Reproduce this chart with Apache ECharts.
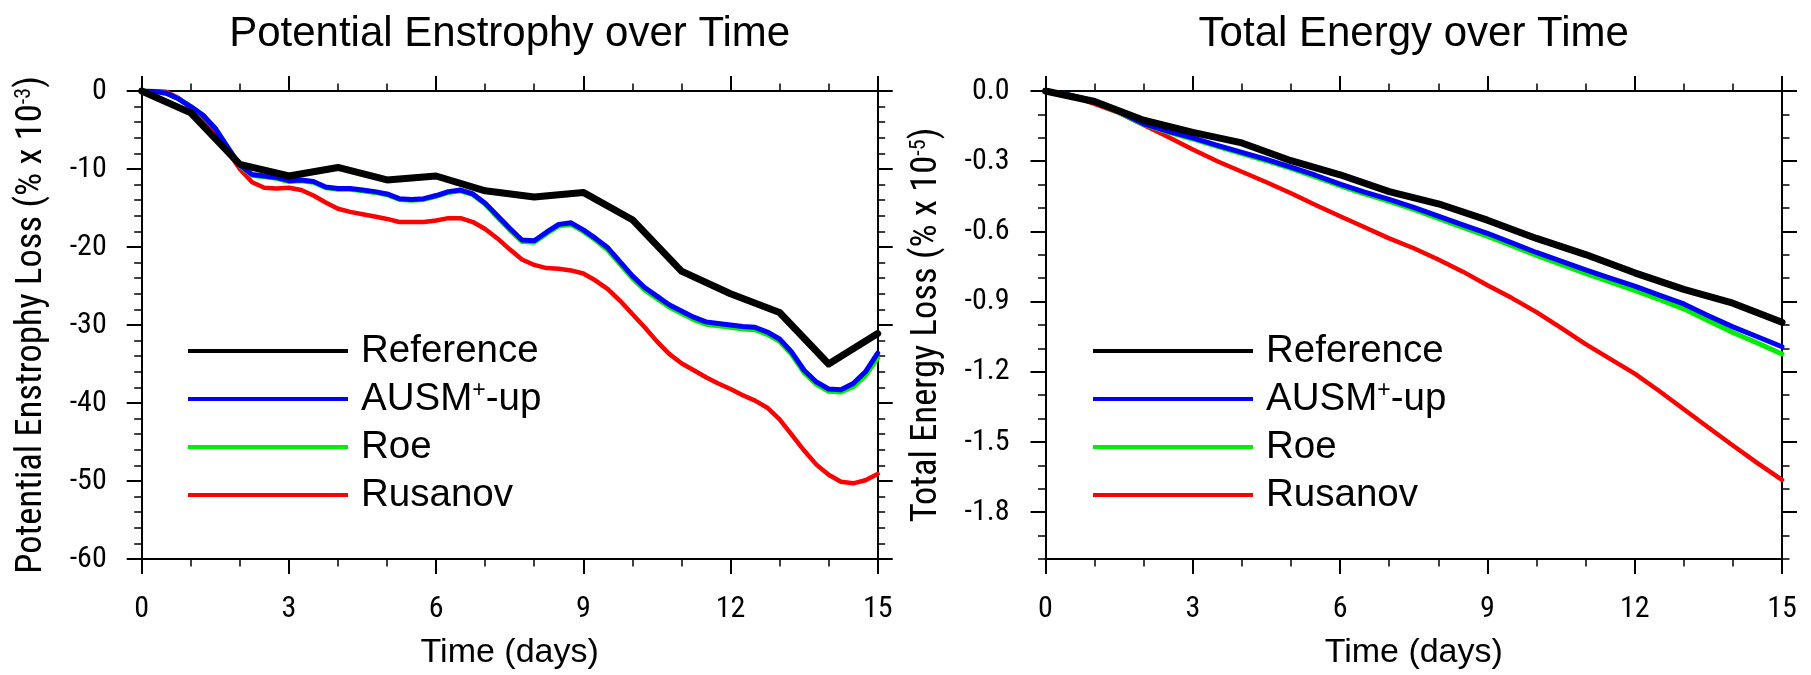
<!DOCTYPE html>
<html><head><meta charset="utf-8">
<script src="https://cdn.jsdelivr.net/npm/echarts@6/dist/echarts.min.js"></script>
<style>html,body{margin:0;padding:0;background:#fff}#c{width:1811px;height:675px}</style>
</head><body><div id="c"></div>
<script>
// ---------------- data ----------------
const seriesNames = ['Reference', 'AUSM+-up', 'Roe', 'Rusanov'];
const xTicks = [0, 3, 6, 9, 12, 15];
const peTicks = [0, -10, -20, -30, -40, -50, -60];
const teTicks = [0, -0.3, -0.6, -0.9, -1.2, -1.5, -1.8];

// daily output of the reference solution
const refDays = [0,1,2,3,4,5,6,7,8,9,10,11,12,13,14,15];
const refPE = [0,-2.8,-9.4,-10.9,-9.8,-11.4,-10.9,-12.8,-13.6,-13.0,-16.5,-23.1,-26.0,-28.4,-35.0,-31.1];
const refTE = [0,-0.045,-0.125,-0.177,-0.222,-0.298,-0.358,-0.430,-0.482,-0.552,-0.630,-0.699,-0.777,-0.848,-0.907,-0.988];

// potential enstrophy (quarter-day samples)
const tPE = [0,0.25,0.5,0.75,1,1.25,1.5,1.75,2,2.25,2.5,2.75,3,3.25,3.5,3.75,4,4.25,4.5,4.75,5,5.25,5.5,5.75,6,6.25,6.5,6.75,7,7.25,7.5,7.75,8,8.25,8.5,8.75,9,9.25,9.5,9.75,10,10.25,10.5,10.75,11,11.25,11.5,11.75,12,12.25,12.5,12.75,13,13.25,13.5,13.75,14,14.25,14.5,14.75,15];
const ausmPE = [0,-0.05,-0.3,-1.0,-2.0,-3.1,-4.8,-7.2,-9.5,-10.7,-10.9,-11.1,-11.5,-11.4,-11.6,-12.3,-12.5,-12.5,-12.7,-12.9,-13.2,-13.8,-13.9,-13.8,-13.4,-12.9,-12.7,-13.2,-14.4,-16.0,-17.6,-19.1,-19.2,-18.1,-17.1,-16.9,-17.8,-18.9,-20.1,-21.9,-23.7,-25.2,-26.3,-27.4,-28.2,-29.0,-29.6,-29.8,-30.0,-30.2,-30.3,-30.9,-31.8,-33.5,-35.8,-37.3,-38.2,-38.3,-37.5,-36.0,-33.6];
const roePE = [0,-0.05,-0.3,-1.0,-2.0,-3.1,-4.8,-7.2,-9.6,-10.8,-11.0,-11.2,-11.6,-11.5,-11.7,-12.4,-12.6,-12.6,-12.8,-13.0,-13.3,-13.9,-14.0,-13.9,-13.5,-13.0,-12.8,-13.3,-14.5,-16.2,-17.8,-19.3,-19.4,-18.3,-17.3,-17.1,-18.0,-19.1,-20.4,-22.2,-24.0,-25.5,-26.6,-27.7,-28.5,-29.3,-29.9,-30.1,-30.3,-30.5,-30.6,-31.2,-32.1,-33.8,-36.1,-37.6,-38.5,-38.6,-37.9,-36.5,-34.2];
const rusPE = [0,0,-0.1,-0.9,-2.2,-3.7,-5.6,-7.7,-10.0,-11.7,-12.4,-12.5,-12.4,-12.7,-13.4,-14.3,-15.1,-15.5,-15.8,-16.1,-16.4,-16.8,-16.8,-16.8,-16.6,-16.3,-16.3,-16.8,-17.7,-18.9,-20.3,-21.6,-22.3,-22.7,-22.8,-23.0,-23.4,-24.3,-25.4,-26.9,-28.6,-30.3,-32.1,-33.7,-34.9,-35.8,-36.7,-37.5,-38.2,-39.0,-39.7,-40.6,-42.1,-44.1,-46.1,-47.9,-49.2,-50.1,-50.3,-49.9,-49.1];

// total energy (half-day samples)
const tTE = [0,0.5,1,1.5,2,2.5,3,3.5,4,4.5,5,5.5,6,6.5,7,7.5,8,8.5,9,9.5,10,10.5,11,11.5,12,12.5,13,13.5,14,14.5,15];
const ausmTE = [0,-0.018,-0.045,-0.09,-0.14,-0.172,-0.2,-0.232,-0.262,-0.292,-0.325,-0.36,-0.398,-0.432,-0.463,-0.497,-0.535,-0.572,-0.608,-0.649,-0.69,-0.727,-0.764,-0.8,-0.834,-0.872,-0.91,-0.96,-1.008,-1.05,-1.093];
const roeTE = [0,-0.018,-0.046,-0.092,-0.143,-0.176,-0.205,-0.237,-0.268,-0.298,-0.331,-0.367,-0.405,-0.44,-0.472,-0.506,-0.545,-0.583,-0.62,-0.661,-0.703,-0.741,-0.779,-0.816,-0.852,-0.891,-0.931,-0.982,-1.032,-1.077,-1.124];
const rusTE = [0,-0.02,-0.055,-0.094,-0.145,-0.197,-0.25,-0.3,-0.345,-0.39,-0.437,-0.487,-0.535,-0.582,-0.63,-0.672,-0.72,-0.772,-0.83,-0.885,-0.945,-1.012,-1.082,-1.145,-1.208,-1.282,-1.36,-1.438,-1.515,-1.59,-1.662];

// ---------------- chart ----------------
const FONT = "'Liberation Sans', Arial, Helvetica, sans-serif";
const NARROW = "'Roboto Condensed', 'Liberation Sans', Arial, sans-serif";
const BLACK = '#000';
const colors = {'Reference': '#000000', 'AUSM+-up': '#0000ff', 'Roe': '#00ee00', 'Rusanov': '#ff0000'};
const pairs = (t, v) => t.map((x, i) => [x, v[i]]);

function xAxisPair(gi, title) {
  const common = {
    type: 'value', gridIndex: gi, min: 0, max: 15, interval: 3,
    axisLine: {show: true, onZero: false, lineStyle: {color: BLACK, width: 2}},
    axisTick: {show: true, length: 15, lineStyle: {color: BLACK, width: 2}},
    minorTick: {show: true, splitNumber: 3, length: 7.5, lineStyle: {color: BLACK, width: 1.5}},
    splitLine: {show: false}, minorSplitLine: {show: false}
  };
  return [
    Object.assign({}, common, {
      position: 'bottom',
      axisLabel: {show: true, fontSize: 30, fontFamily: NARROW, color: BLACK, margin: 35, showMinLabel: true, showMaxLabel: true,
        customValues: xTicks},
      name: 'Time (days)', nameLocation: 'middle', nameGap: 77,
      nameTextStyle: {fontSize: 34, fontFamily: FONT, color: BLACK}
    }),
    Object.assign({}, common, {
      position: 'top', axisLabel: {show: false},
      name: title, nameLocation: 'middle', nameGap: 36,
      nameTextStyle: {fontSize: 42, fontFamily: FONT, color: BLACK}
    })
  ];
}

const supRich = {sup: {fontSize: 22, fontFamily: NARROW, color: BLACK, verticalAlign: 'top'}};

function yAxisPE() {
  const common = {
    type: 'value', gridIndex: 0, min: -60, max: 0, interval: 10,
    axisLine: {show: true, onZero: false, lineStyle: {color: BLACK, width: 2}},
    axisTick: {show: true, length: 15, lineStyle: {color: BLACK, width: 2}},
    minorTick: {show: true, splitNumber: 5, length: 7.5, lineStyle: {color: BLACK, width: 1.5}},
    splitLine: {show: false}, minorSplitLine: {show: false}
  };
  return [
    Object.assign({}, common, {
      position: 'left',
      axisLabel: {show: true, fontSize: 30, fontFamily: NARROW, color: BLACK, margin: 35, showMinLabel: true, showMaxLabel: true,
        customValues: peTicks},
      name: 'Potential Enstrophy Loss (% x 10{sup|-3})', nameLocation: 'middle', nameGap: 91,
      nameTextStyle: {fontSize: 36.5, fontFamily: NARROW, color: BLACK, rich: supRich}
    }),
    Object.assign({}, common, {position: 'right', axisLabel: {show: false}})
  ];
}

function yAxisTE() {
  const base = {
    type: 'value', gridIndex: 1, min: -2, max: 0,
    axisLine: {show: true, onZero: false, lineStyle: {color: BLACK, width: 2}},
    splitLine: {show: false}
  };
  return [
    // major ticks + labels (left)
    Object.assign({}, base, {
      position: 'left',
      axisTick: {show: true, length: 15, lineStyle: {color: BLACK, width: 2}, customValues: teTicks},
      axisLabel: {show: true, fontSize: 30, fontFamily: NARROW, color: BLACK, margin: 36, customValues: teTicks,
        formatter: v => v.toFixed(1)},
      name: 'Total Energy Loss (% x 10{sup|-5})', nameLocation: 'middle', nameGap: 100,
      nameTextStyle: {fontSize: 36.5, fontFamily: NARROW, color: BLACK, rich: supRich}
    }),
    // major ticks (right)
    Object.assign({}, base, {
      position: 'right',
      axisTick: {show: true, length: 15, lineStyle: {color: BLACK, width: 2}, customValues: teTicks},
      axisLabel: {show: false}
    }),
    // minor ticks (left)
    Object.assign({}, base, {
      position: 'left', interval: 0.1,
      axisTick: {show: true, length: 7.5, lineStyle: {color: BLACK, width: 1.5}},
      axisLabel: {show: false}
    }),
    // minor ticks (right)
    Object.assign({}, base, {
      position: 'right', interval: 0.1,
      axisTick: {show: true, length: 7.5, lineStyle: {color: BLACK, width: 1.5}},
      axisLabel: {show: false}
    })
  ];
}

const yAxes = yAxisPE().concat(yAxisTE()); // indices: 0,1 PE ; 2..5 TE

function line(name, data, xi, yi, width) {
  return {
    type: 'line', name: name, xAxisIndex: xi, yAxisIndex: yi, data: data,
    showSymbol: false, symbol: 'none', smooth: false, silent: true,
    color: colors[name],
    itemStyle: {color: colors[name]},
    lineStyle: {color: colors[name], width: width, join: 'round', cap: 'round'}
  };
}

const legendBase = {
  data: seriesNames, orient: 'vertical', icon: 'rect', padding: 0,
  itemWidth: 160, itemHeight: 4, itemGap: 8, selectedMode: false,
  formatter: n => n === 'AUSM+-up' ? 'AUSM{sup|+}-up' : n,
  textStyle: {fontSize: 38.5, lineHeight: 40, fontFamily: FONT, color: BLACK, padding: [0, 0, 0, 8],
    rich: {sup: {fontSize: 23, fontFamily: FONT, color: BLACK, verticalAlign: 'top', lineHeight: 40}}}
};

const option = {
  animation: false,
  backgroundColor: '#fff',
  grid: [
    {left: 141.7, top: 91, width: 736, height: 474, containLabel: false},
    {left: 1045.5, top: 91, width: 736.5, height: 474, containLabel: false}
  ],
  xAxis: xAxisPair(0, 'Potential Enstrophy over Time').concat(xAxisPair(1, 'Total Energy over Time')),
  yAxis: yAxes,
  legend: [
    Object.assign({}, legendBase, {left: 188, top: 331}),
    Object.assign({}, legendBase, {left: 1093, top: 331})
  ],
  series: [
    line('Rusanov', pairs(tPE, rusPE), 0, 0, 4.5),
    line('Roe', pairs(tPE, roePE), 0, 0, 5),
    line('AUSM+-up', pairs(tPE, ausmPE), 0, 0, 5),
    line('Reference', pairs(refDays, refPE), 0, 0, 7),
    line('Rusanov', pairs(tTE, rusTE), 2, 2, 4.5),
    line('Roe', pairs(tTE, roeTE), 2, 2, 5),
    line('AUSM+-up', pairs(tTE, ausmTE), 2, 2, 5),
    line('Reference', pairs(refDays, refTE), 2, 2, 7)
  ]
};

const chart = echarts.init(document.getElementById('c'), null, {renderer: 'canvas'});
chart.setOption(option);
</script>
</body></html>
